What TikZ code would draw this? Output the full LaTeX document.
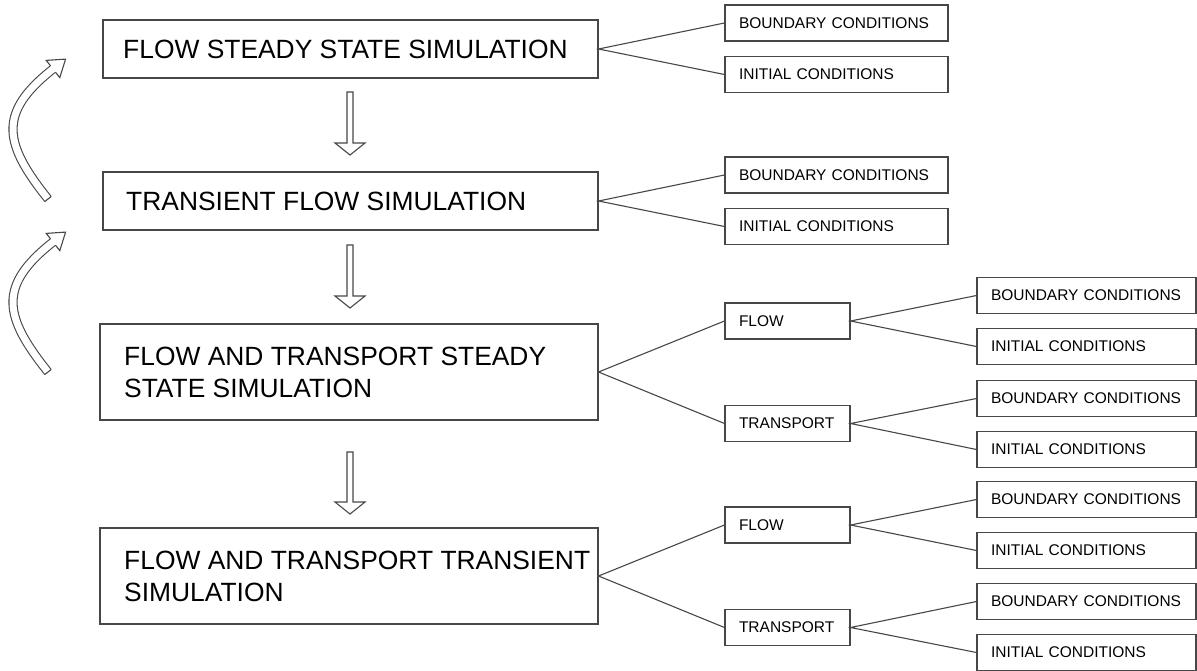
\documentclass[tikz,border=0pt]{standalone}
\usepackage{fontspec}
\setmainfont{Liberation Sans}
\usetikzlibrary{calc}
\tikzset{
  ln/.style={draw=black!72, line width=1.1pt},
  bigbox/.style={ln, rectangle, inner sep=0pt},
  bigtext/.style={anchor=west, align=left, inner sep=0pt, font=\fontsize{26.4pt}{32pt}\selectfont},
  smallbox/.style={ln, rectangle, minimum height=36pt, inner xsep=14pt, inner ysep=0pt, align=left, font=\fontsize{15.5pt}{18pt}\selectfont},
  colA/.style={smallbox, text width=195pt},
  colF/.style={smallbox, text width=97pt},
  colR/.style={smallbox, text width=191pt},
  conn/.style={ln},
  blk/.style={ln, fill=white, line join=miter},
  band/.style={draw=black!72, line width=1.1pt, double=white, double distance=7pt},
}
\newcommand\dnarrow[2]{%
  \draw[blk] ($(#1)+(-3,0)$) -- ($(#2)+(-3,-12)$) -- ($(#2)+(-15,-12)$) -- (#2)
    -- ($(#2)+(15,-12)$) -- ($(#2)+(3,-12)$) -- ($(#1)+(3,0)$) -- cycle;}
\newcommand\loopback{%
  \draw[band] (48,199) .. controls (4,144) and (-3,113) .. (53,69) -- (53.8,68.4);
  \fill[white] (59.8,77.6) -- (65.6,59.1) -- (46.2,60.4) -- cycle;
  \draw[ln, line join=miter] (55.5,72.2) -- (59.8,77.6) -- (65.6,59.1) -- (46.2,60.4) -- (50.5,65.8);
  \draw[ln] (51.2,196.5) -- (44.8,201.5);}
\begin{document}
\begin{tikzpicture}[x=1pt,y=-1pt]
\useasboundingbox[fill=white] (0,0) rectangle (1197,670);

% main boxes
\node[bigbox, minimum width=495pt, minimum height=58pt] (s1) at (350.5,49) {};
\node[bigtext] (s1t) at (123,49) {FLOW STEADY STATE SIMULATION};
\node[bigbox, minimum width=495pt, minimum height=58pt] (s2) at (350.5,201) {};
\node[bigtext] (s2t) at (126,201) {TRANSIENT FLOW SIMULATION};
\node[bigbox, minimum width=498pt, minimum height=96pt] (s3) at (349,372) {};
\node[bigtext] (s3t) at (124,372) {FLOW AND TRANSPORT STEADY\\STATE SIMULATION};
\node[bigbox, minimum width=498pt, minimum height=96pt] (s4) at (349,576) {};
\node[bigtext] (s4t) at (124,576) {FLOW AND TRANSPORT TRANSIENT\\SIMULATION};

% first column small boxes
\node[colA] (b1) at (836.5,23) {BOUNDARY CONDITIONS};
\node[colA] (i1) at (836.5,74.5) {INITIAL CONDITIONS};
\node[colA] (b2) at (836.5,175) {BOUNDARY CONDITIONS};
\node[colA] (i2) at (836.5,226.5) {INITIAL CONDITIONS};

% flow / transport boxes
\node[colF] (f3) at (787.5,321) {FLOW};
\node[colF] (t3) at (787.5,423.5) {TRANSPORT};
\node[colF] (f4) at (787.5,525) {FLOW};
\node[colF] (t4) at (787.5,627.5) {TRANSPORT};

% right column
\node[colR] (f3b) at (1086.5,295.5) {BOUNDARY CONDITIONS};
\node[colR] (f3i) at (1086.5,346.5) {INITIAL CONDITIONS};
\node[colR] (t3b) at (1086.5,398.5) {BOUNDARY CONDITIONS};
\node[colR] (t3i) at (1086.5,449.5) {INITIAL CONDITIONS};
\node[colR] (f4b) at (1086.5,499.5) {BOUNDARY CONDITIONS};
\node[colR] (f4i) at (1086.5,550.5) {INITIAL CONDITIONS};
\node[colR] (t4b) at (1086.5,601.5) {BOUNDARY CONDITIONS};
\node[colR] (t4i) at (1086.5,652.5) {INITIAL CONDITIONS};

% connectors
\draw[conn] (b1.west) -- (s1.east) -- (i1.west);
\draw[conn] (b2.west) -- (s2.east) -- (i2.west);
\draw[conn] (f3.west) -- (s3.east) -- (t3.west);
\draw[conn] (f4.west) -- (s4.east) -- (t4.west);
\draw[conn] (f3b.west) -- (f3.east) -- (f3i.west);
\draw[conn] (t3b.west) -- (t3.east) -- (t3i.west);
\draw[conn] (f4b.west) -- (f4.east) -- (f4i.west);
\draw[conn] (t4b.west) -- (t4.east) -- (t4i.west);

% down arrows
\coordinate (a1t) at (350,92);  \coordinate (a1h) at (350,155);
\coordinate (a2t) at (350,245); \coordinate (a2h) at (350,308);
\coordinate (a3t) at (350,452); \coordinate (a3h) at (350,514);
\dnarrow{a1t}{a1h}
\dnarrow{a2t}{a2h}
\dnarrow{a3t}{a3h}

% curved return arrows
\loopback
\begin{scope}[shift={(0,173)}]
\loopback
\end{scope}
\end{tikzpicture}
\end{document}
